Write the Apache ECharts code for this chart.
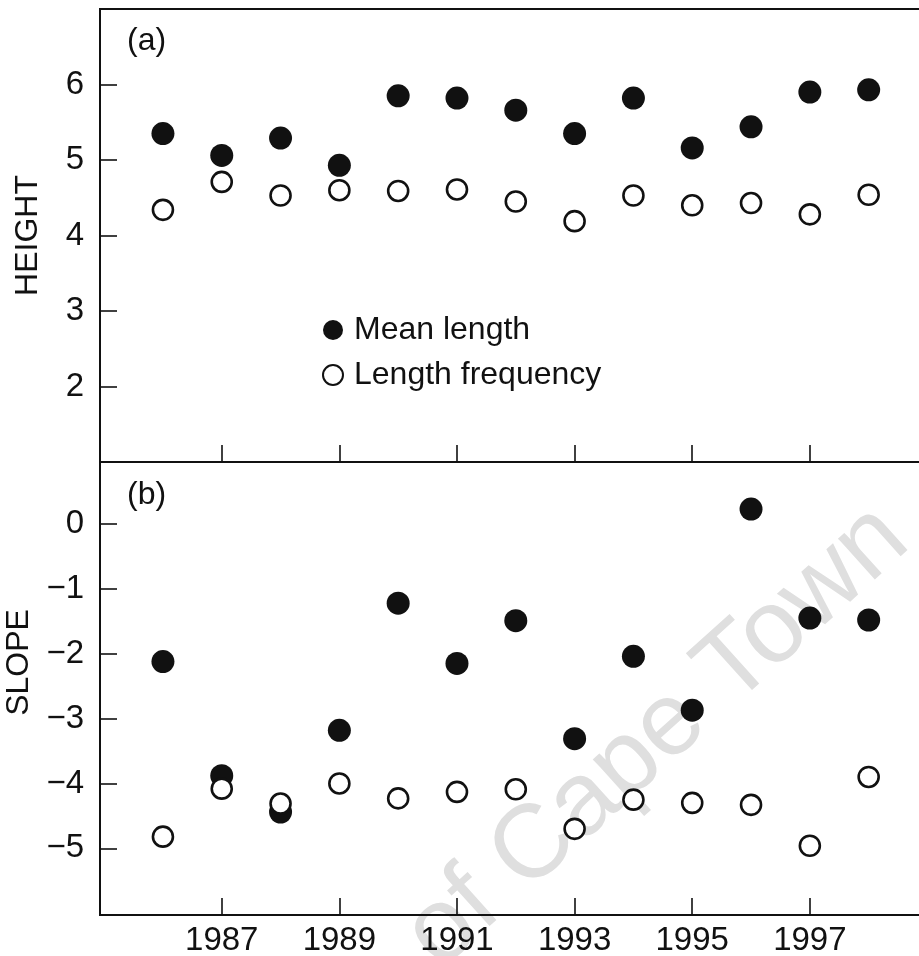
<!DOCTYPE html>
<html>
<head>
<meta charset="utf-8">
<script src="https://cdn.jsdelivr.net/npm/echarts@6/dist/echarts.min.js"></script>
<style>
html,body{margin:0;padding:0;background:#fff;}
#chart{width:919px;height:956px;}
</style>
</head>
<body>
<div id="chart"></div>
<script>
const years = [1986,1987,1988,1989,1990,1991,1992,1993,1994,1995,1996,1997,1998];
const heightMean = [5.35,5.06,5.29,4.93,5.85,5.82,5.66,5.35,5.82,5.16,5.44,5.90,5.93];
const heightFreq = [4.34,4.71,4.53,4.60,4.59,4.61,4.45,4.19,4.53,4.40,4.43,4.28,4.54];
const slopeMean = [-2.12,-3.88,-4.44,-3.18,-1.22,-2.15,-1.49,-3.31,-2.04,-2.87,0.23,-1.45,-1.48];
const slopeFreq = [-4.82,-4.08,-4.31,-4.00,-4.23,-4.13,-4.09,-4.70,-4.25,-4.30,-4.33,-4.96,-3.90];
const xTicks = [1987,1989,1991,1993,1995,1997];
const heightTicks = [2,3,4,5,6];
const slopeTicks = [0,-1,-2,-3,-4,-5];
const seriesNames = ['Mean length','Length frequency'];
const panelLabels = ['(a)','(b)'];
const axisNames = ['HEIGHT','SLOPE'];
const watermark = 'of Cape Town';

const FONT = "'Liberation Sans', Arial, sans-serif";
const INK = '#111';
const XMIN = 1984.93, XMAX = 1998.89;

function pairs(ys){ return years.map((y,i)=>[y, ys[i]]); }
function fmt(v){ return v < 0 ? '\u2212' + Math.abs(v) : String(v); }

const lineStyle = {color: INK, width: 2};
function xAxisCfg(gi, showLabels){
  return {
    type:'value', gridIndex: gi, min: XMIN, max: XMAX,
    axisLine:{show:true, onZero:false, lineStyle},
    axisTick:{show:true, inside:true, length:17, customValues: xTicks, lineStyle:{color:INK, width:1.6}},
    axisLabel:{show: showLabels, customValues: xTicks, formatter: v => String(v), margin:9, fontSize:33, color:INK, fontFamily:FONT},
    splitLine:{show:false}
  };
}
function yAxisCfg(gi, min, max, ticks, name, pad){
  return {
    type:'value', gridIndex: gi, min, max,
    name, nameLocation:'middle', nameGap:56,
    nameTextStyle:{fontSize:32, color:INK, fontFamily:FONT, padding: pad},
    axisLine:{show:true, onZero:false, lineStyle},
    axisTick:{show:true, inside:true, length:17, customValues: ticks, lineStyle:{color:INK, width:1.6}},
    axisLabel:{show:true, customValues: ticks, formatter: fmt, margin:16, fontSize:33, color:INK, fontFamily:FONT},
    splitLine:{show:false}
  };
}

const filled = {color: INK, opacity: 1};
const open = {color:'#fff', borderColor: INK, borderWidth: 2.6, opacity: 1};

const gridBase = {left:100, right:-2, height:453, show:true, borderColor:INK, borderWidth:2,
  backgroundColor:'transparent', containLabel:false, outerBoundsMode:'none'};

const option = {
  animation:false,
  backgroundColor:'#fff',
  textStyle:{fontFamily:FONT},
  grid:[
    Object.assign({top:9}, gridBase),
    Object.assign({top:462}, gridBase)
  ],
  title:[
    {text: panelLabels[0], left:122, top:20, textStyle:{fontSize:32, fontWeight:'normal', color:INK, fontFamily:FONT}},
    {text: panelLabels[1], left:122, top:474, textStyle:{fontSize:32, fontWeight:'normal', color:INK, fontFamily:FONT}}
  ],
  legend:{
    orient:'vertical', left:317, top:309, itemWidth:32, itemHeight:20, itemGap:13,
    data: seriesNames.map(n=>({name:n, icon:'circle'})),
    textStyle:{fontSize:32, color:INK, fontFamily:FONT, lineHeight:22}
  },
  xAxis:[xAxisCfg(0,false), xAxisCfg(1,true)],
  yAxis:[
    yAxisCfg(0, 1, 7, heightTicks, axisNames[0], 0),
    yAxisCfg(1, -6.028, 0.956, slopeTicks, axisNames[1], [0,0,0,52])
  ],
  graphic:[{
    type:'text', z:0, x:657, y:737, rotation: 42*Math.PI/180,
    style:{text: watermark, fontSize:104, fontFamily:FONT, fill:'#dfdfdf', align:'center', verticalAlign:'middle'}
  }],
  series:[
    {name:seriesNames[0], type:'scatter', xAxisIndex:0, yAxisIndex:0, symbol:'circle', symbolSize:23, itemStyle:filled, data:pairs(heightMean), z:3},
    {name:seriesNames[1], type:'scatter', xAxisIndex:0, yAxisIndex:0, symbol:'circle', symbolSize:20, itemStyle:open, data:pairs(heightFreq), z:4},
    {name:seriesNames[0], type:'scatter', xAxisIndex:1, yAxisIndex:1, symbol:'circle', symbolSize:23, itemStyle:filled, data:pairs(slopeMean), z:3},
    {name:seriesNames[1], type:'scatter', xAxisIndex:1, yAxisIndex:1, symbol:'circle', symbolSize:20, itemStyle:open, data:pairs(slopeFreq), z:4}
  ]
};
const chart = echarts.init(document.getElementById('chart'), null, {renderer:'canvas'});
chart.setOption(option);
</script>
</body>
</html>
